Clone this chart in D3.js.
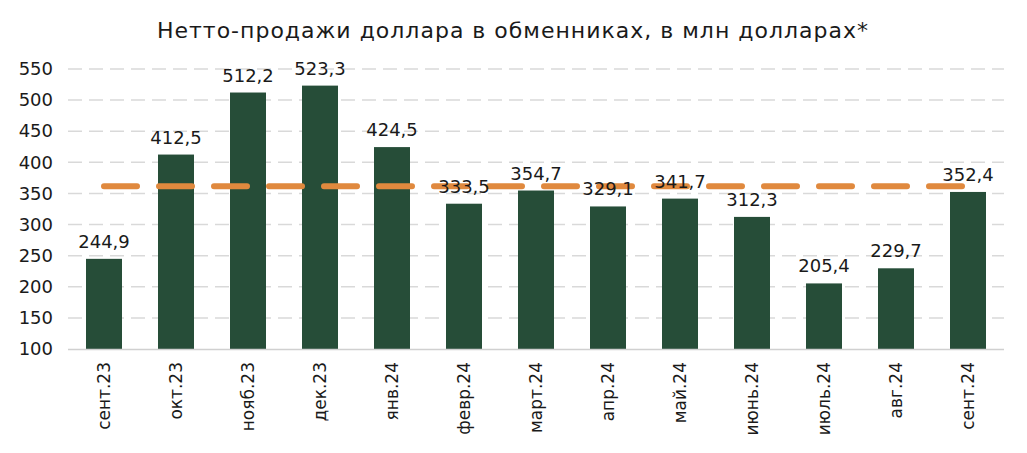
<!DOCTYPE html>
<html><head><meta charset="utf-8">
<script src="https://cdn.jsdelivr.net/npm/d3@7"></script>
<style>body{margin:0;background:#fff}svg{display:block}text{font-family:"DejaVu Sans",sans-serif;fill:#1a1a1a}</style>
</head><body><svg id="c" width="1027" height="453"></svg>
<script>
const categories = ["сент.23","окт.23","нояб.23","дек.23","янв.24","февр.24","март.24","апр.24","май.24","июнь.24","июль.24","авг.24","сент.24"];
const values = [244.9,412.5,512.2,523.3,424.5,333.5,354.7,329.1,341.7,312.3,205.4,229.7,352.4];
const averageValue = 361.5;
const yTicks = [100,150,200,250,300,350,400,450,500,550];
const title = "Нетто-продажи доллара в обменниках, в млн долларах*";

const FONT = "'DejaVu Sans',sans-serif";
const svg = d3.select("#c");
const m = {l:68, r:23, t:69, b:104};
const W = 1027, H = 453;
const x = d3.scaleBand().domain(categories).range([m.l, W-m.r]).paddingInner(0.5).paddingOuter(0.25);
const y = d3.scaleLinear().domain([100,550]).range([H-m.b, m.t]);

svg.append("text").attr("x",513).attr("y",38).attr("text-anchor","middle")
  .style("font-size","22px").style("letter-spacing","1px").style("font-family",FONT).text(title);

const grid = svg.append("g");
grid.selectAll("line").data(yTicks.filter(d=>d>100)).join("line")
  .attr("x1",m.l).attr("x2",W-m.r).attr("y1",d=>y(d)).attr("y2",d=>y(d))
  .attr("stroke","#d9d9d9").attr("stroke-width",1.5).attr("stroke-dasharray","14,7");

const yAxis = d3.axisLeft(y).tickValues(yTicks).tickSize(0).tickPadding(15).tickFormat(d3.format("d"));
const ga = svg.append("g").attr("transform",`translate(${m.l},0)`).call(yAxis);
ga.select(".domain").remove();
ga.selectAll("text").style("font-size","18px").style("font-family",FONT).attr("fill","#1a1a1a");

svg.append("g").selectAll("rect").data(values).join("rect")
  .attr("x",(d,i)=>x(categories[i])).attr("width",x.bandwidth())
  .attr("y",d=>y(d)).attr("height",d=>y(100)-y(d)).attr("fill","#264d38");

svg.append("line").attr("x1",m.l).attr("x2",W-m.r).attr("y1",y(100)+0.5).attr("y2",y(100)+0.5)
  .attr("stroke","#d0d0d0").attr("stroke-width",1.5);

const xAxis = d3.axisBottom(x).tickSize(0).tickPadding(0);
const gx = svg.append("g").attr("transform",`translate(0,${y(100)})`).call(xAxis);
gx.select(".domain").remove();
gx.selectAll("text").style("font-size","17px").style("font-family",FONT).attr("fill","#1a1a1a")
  .attr("text-anchor","end").attr("dy","0.35em").attr("y",0)
  .attr("transform","translate(0,13) rotate(-90)");

svg.append("line")
  .attr("x1",x(categories[0])+x.bandwidth()/2).attr("x2",x(categories[categories.length-1])+x.bandwidth()/2)
  .attr("y1",y(averageValue)).attr("y2",y(averageValue))
  .attr("stroke","#e0893e").attr("stroke-width",6).attr("stroke-linecap","round")
  .attr("stroke-dasharray","33,22");

svg.append("g").selectAll("text").data(values).join("text")
  .attr("x",(d,i)=>x(categories[i])+x.bandwidth()/2).attr("y",d=>y(d)-11)
  .attr("text-anchor","middle").style("font-size","18px").style("font-family",FONT)
  .text(d=>d3.format(".1f")(d).replace(".",","));
</script></body></html>
